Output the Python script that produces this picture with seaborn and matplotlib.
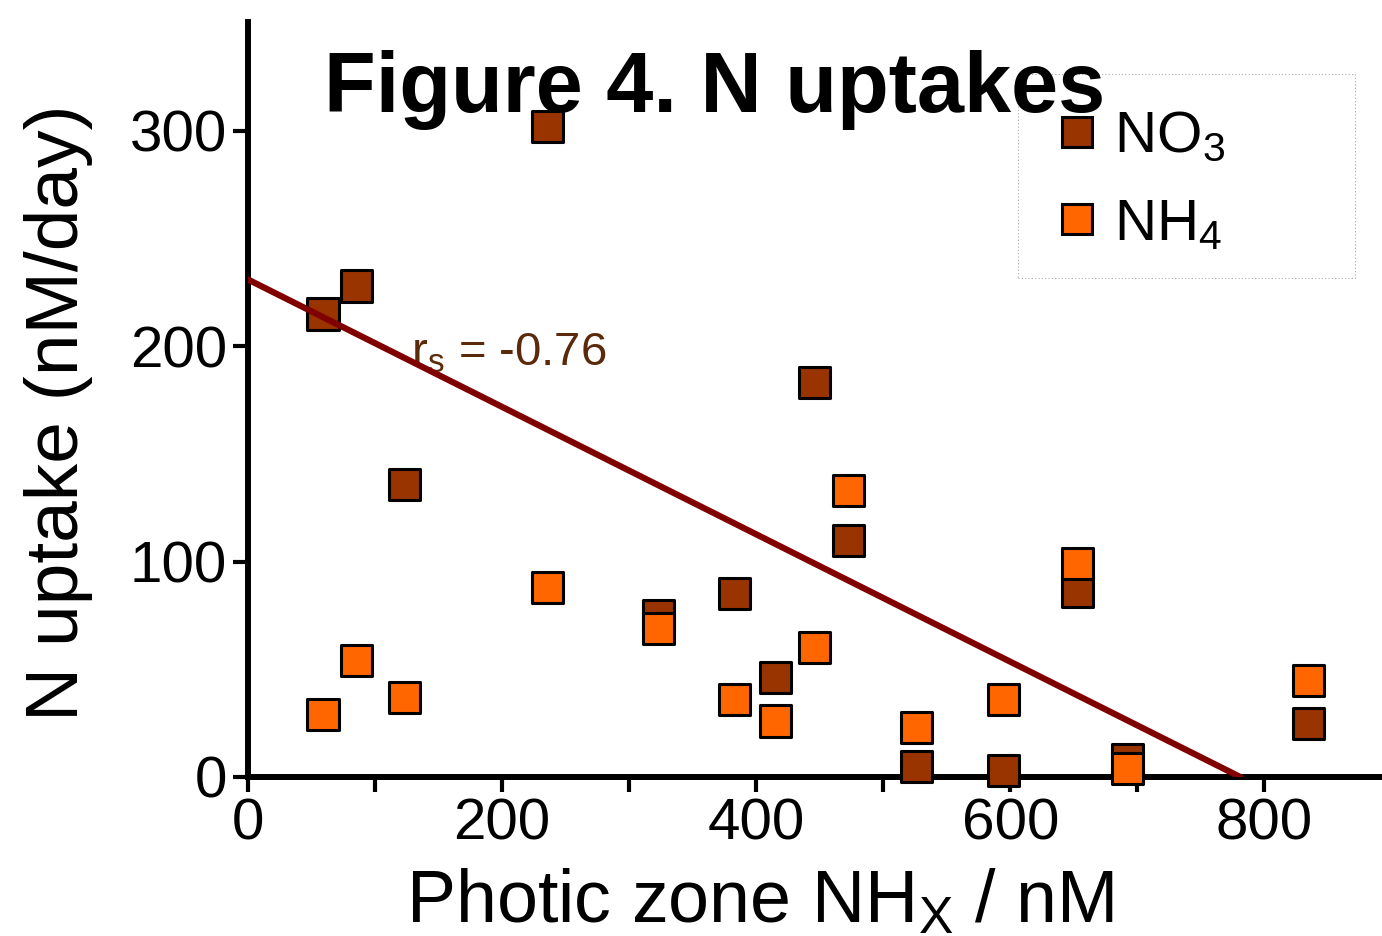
import numpy as np
import pandas as pd
import seaborn as sns
import matplotlib.pyplot as plt
from matplotlib.lines import Line2D
from matplotlib.patches import Rectangle

# photic zone NHx (nM) for each station
nhx = [59, 85, 123, 236, 323, 383, 415, 446, 473, 526, 595, 653, 692, 835]
no3_uptake = [215, 228, 136, 302, 75, 85, 46, 183, 110, 5, 3, 86, 8, 25]
nh4_uptake = [29, 54, 37, 88, 69, 36, 26, 60, 133, 23, 36, 99, 4, 45]

# fitted line end points
fit_x = [0, 781]
fit_y = [231, 0]
rs_label = "r$_\\mathrm{s}$ = -0.76"

sns.set_theme(style="ticks")
plt.rcParams['font.family'] = ['Liberation Sans', 'DejaVu Sans']
plt.rcParams['mathtext.fontset'] = 'custom'
plt.rcParams['mathtext.rm'] = 'Liberation Sans'
plt.rcParams['mathtext.it'] = 'Liberation Sans'
plt.rcParams['mathtext.bf'] = 'Liberation Sans:bold'
for key in ['text.color', 'axes.labelcolor', 'xtick.color', 'ytick.color', 'axes.edgecolor']:
    plt.rcParams[key] = 'black'

df = pd.DataFrame({
    'x': nhx * 2,
    'y': no3_uptake + nh4_uptake,
    'species': ['NO3'] * len(nhx) + ['NH4'] * len(nhx),
})
colors = {'NO3': '#993300', 'NH4': '#ff6600'}

fig = plt.figure(figsize=(13.82, 9.36), dpi=100)
ax = fig.add_axes([0.1795, 0.1699, 0.8205, 0.8066])

sns.scatterplot(data=df, x='x', y='y', hue='species', palette=colors,
                marker='s', s=500, edgecolor='black', linewidth=2.2,
                legend=False, clip_on=False, zorder=3, ax=ax)
sns.lineplot(x=fit_x, y=fit_y, color='#800000', linewidth=4.5, ax=ax, zorder=4)

ax.text(128, 191, rs_label, color='#5a2a0a', fontsize=34)

ax.set_xlim(0, 892.6)
ax.set_ylim(0, 350.6)
ax.set_xticks([0, 200, 400, 600, 800])
ax.set_xticks([100, 300, 500, 700], minor=True)
ax.set_yticks([0, 100, 200, 300])
ax.tick_params(axis='both', which='both', length=11, width=3, labelsize=42, pad=4)
sns.despine(ax=ax)
for side in ['left', 'bottom']:
    ax.spines[side].set_linewidth(4.3)
    ax.spines[side].set_zorder(2)

ax.set_xlabel("Photic zone NH$_\\mathrm{X}$ / nM", fontsize=53)
ax.xaxis.set_label_coords(0.4515, -0.12, transform=ax.transAxes)
ax.xaxis.label.set_va('top')
ax.set_ylabel("N uptake (nM/day)", fontsize=54)
ax.yaxis.set_label_coords(-0.137, 0.482)

handles = [Line2D([], [], marker='s', linestyle='', markersize=22,
                  markerfacecolor=colors[k], markeredgecolor='black',
                  markeredgewidth=2.2) for k in ['NO3', 'NH4']]
ax.legend(handles, ['NO$_\\mathrm{3}$', 'NH$_\\mathrm{4}$'],
          loc='upper left', bbox_to_anchor=(0.716, 0.883),
          fontsize=42, frameon=False, borderaxespad=0, borderpad=0,
          handletextpad=0.33, labelspacing=0.57, handlelength=0.6)
ax.add_patch(Rectangle((0.679, 0.661), 0.297, 0.27, transform=ax.transAxes,
                       fill=False, edgecolor='#aaaaaa', linewidth=0.8,
                       linestyle=(0, (1, 2)), zorder=1))

fig.text(0.517, 0.88, "Figure 4. N uptakes", ha='center', va='baseline',
         fontsize=61, fontweight='bold')

fig.savefig('out.png', dpi=100)
